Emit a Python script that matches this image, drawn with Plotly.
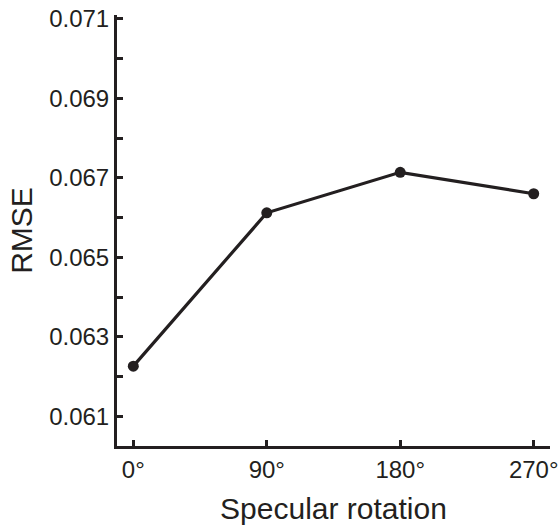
import plotly.graph_objects as go

angles = [0, 90, 180, 270]
rmse = [0.06226, 0.06612, 0.06714, 0.06660]
x_tick_vals = [0, 90, 180, 270]
x_tick_text = ["0°", "90°", "180°", "270°"]
y_tick_vals = [0.061, 0.063, 0.065, 0.067, 0.069, 0.071]
y_tick_text = ["0.061", "0.063", "0.065", "0.067", "0.069", "0.071"]
y_minor_vals = [0.062, 0.064, 0.066, 0.068, 0.070]

ink = "#231f20"
font = "Liberation Sans, Arial, Helvetica, sans-serif"

fig = go.Figure(go.Scatter(
    x=angles, y=rmse, mode="lines+markers",
    line=dict(color=ink, width=3.2),
    marker=dict(color=ink, size=11),
))

fig.update_layout(
    width=560, height=527,
    margin=dict(l=117, r=10, t=15, b=81),
    paper_bgcolor="white", plot_bgcolor="white",
    font=dict(family=font, color=ink),
    showlegend=False,
)
fig.update_xaxes(
    range=[-11, 281], tickvals=x_tick_vals, ticktext=x_tick_text,
    showline=True, linecolor=ink, linewidth=3,
    ticks="inside", ticklen=6, tickwidth=3, tickcolor=ink,
    showgrid=False, zeroline=False, automargin=False,
    ticklabeloverflow="allow",
    tickfont=dict(size=24, family=font, color=ink),
    title=dict(text="Specular rotation", font=dict(size=30, family=font, color=ink), standoff=17),
)
fig.update_yaxes(
    range=[0.06025, 0.0711], tickvals=y_tick_vals, ticktext=y_tick_text,
    showline=True, linecolor=ink, linewidth=3,
    ticks="inside", ticklen=6, tickwidth=3, tickcolor=ink,
    minor=dict(tickvals=y_minor_vals, ticks="inside",
               ticklen=6, tickwidth=3, tickcolor=ink, showgrid=False),
    showgrid=False, zeroline=False, automargin=False,
    ticklabeloverflow="allow",
    tickfont=dict(size=24, family=font, color=ink),
    title=dict(text="RMSE", font=dict(size=30, family=font, color=ink), standoff=8),
)

fig.write_html("out.html", config={"displayModeBar": False},
               post_script="document.body.style.margin='0';")
